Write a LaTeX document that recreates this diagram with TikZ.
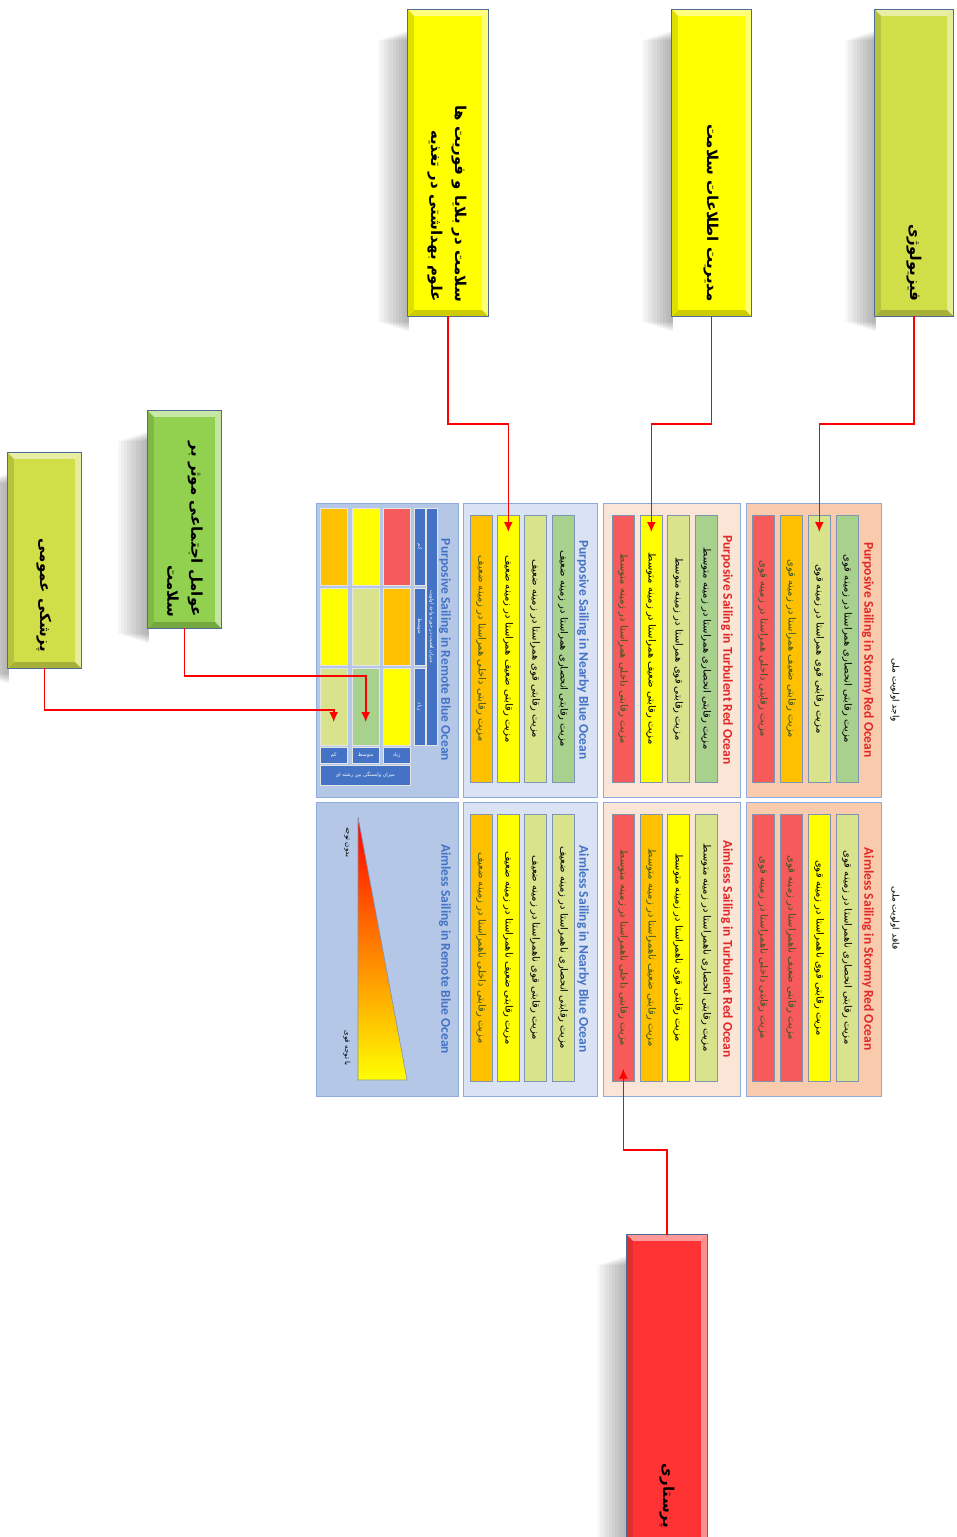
\documentclass[tikz,border=0pt]{standalone}
\usepackage{fontspec}
\TeXXeTstate=1
\newfontfamily\fafont[Script=Arabic]{DejaVu Sans}
\newfontfamily\calfont{Carlito}
\usetikzlibrary{arrows.meta,fit,calc}
\definecolor{cRed}{RGB}{247,90,90}
\definecolor{cOrange}{RGB}{255,192,0}
\definecolor{cYellow}{RGB}{255,255,0}
\definecolor{cLyg}{RGB}{216,227,140}
\definecolor{cGreen}{RGB}{169,209,142}
\definecolor{pStorm}{RGB}{248,203,173}
\definecolor{pTurb}{RGB}{251,229,214}
\definecolor{pNear}{RGB}{218,227,243}
\definecolor{pRemote}{RGB}{180,199,231}
\definecolor{panelEdge}{RGB}{143,170,220}
\definecolor{barEdge}{RGB}{127,147,179}
\definecolor{hdrBlue}{RGB}{68,114,196}
\definecolor{titRed}{RGB}{224,40,40}
\definecolor{txtGreen}{RGB}{55,86,35}
\definecolor{bxYG}{RGB}{208,222,72}
\definecolor{bxYellow}{RGB}{255,255,0}
\definecolor{bxGreen}{RGB}{146,208,80}
\definecolor{bxRed}{RGB}{255,51,51}
\definecolor{bxEdge}{RGB}{79,107,150}
\definecolor{connRed}{RGB}{255,0,0}
\tikzset{
  panelbox/.style={draw=panelEdge, line width=0.8pt, inner sep=0pt},
  barbox/.style={draw=barEdge, line width=0.6pt, minimum width=22pt, minimum height=267pt, inner sep=0pt},
  bartext/.style={rotate=-90, inner sep=0pt, font=\fafont\fontsize{10}{11}\selectfont},
  paneltitle/.style={rotate=-90, inner sep=0pt, font=\calfont\bfseries\fontsize{13.5}{15}\selectfont},
  boxtext/.style={rotate=-90, inner sep=0pt, align=right, anchor=east, font=\fafont\bfseries\fontsize{15}{24}\selectfont},
  cellbox/.style={draw=white!80!gray, line width=0.4pt, minimum width=27pt, minimum height=77pt, inner sep=0pt, anchor=north west},
  hdrcell/.style={fill=hdrBlue, draw=white!80!gray, line width=0.4pt, inner sep=0pt, anchor=north west},
  hdrtext/.style={text=white, inner sep=0pt, font=\fafont\fontsize{5}{6}\selectfont},
  connector/.style={draw=connRed, line width=1.6pt, -{Latex[length=10pt,width=9pt]}},
  headlabel/.style={rotate=-90, inner sep=0pt, font=\fafont\fontsize{9}{10}\selectfont},
}
\newcommand\mkbox[6]{%
  \foreach \i in {1,...,10}{\fill[black,opacity=0.03] ({#2-3*\i},{#3+20+\i}) rectangle ({#2+1},{#5+16-\i});}
  \node[fit={(#2,#3) (#4,#5)}, inner sep=0pt, fill=#6] (#1) {};
  \fill[#6!50!white] (#1.north west) -- (#1.north east) -- ($(#1.north east)+(-6,6)$) -- ($(#1.north west)+(6,6)$) -- cycle;
  \fill[#6!55!white] (#1.north east) -- (#1.south east) -- ($(#1.south east)+(-6,-6)$) -- ($(#1.north east)+(-6,6)$) -- cycle;
  \fill[#6!80!black] (#1.south west) -- (#1.south east) -- ($(#1.south east)+(-6,-6)$) -- ($(#1.south west)+(6,-6)$) -- cycle;
  \fill[#6!88!black] (#1.north west) -- (#1.south west) -- ($(#1.south west)+(6,-6)$) -- ($(#1.north west)+(6,6)$) -- cycle;
  \draw[bxEdge, line width=1pt] (#1.north west) rectangle (#1.south east);
}
\newcommand\mkbar[6]{%
  \node[barbox, fill=#4, anchor=north west] (#1) at (#2,#3) {};
  \node[bartext, text=#5] (#1t) at (#1.center) {#6};
}
\newcommand\mkpanel[6]{%
  \node[panelbox, fill=#6, fit={(#2,#3) (#4,#5)}] (#1) {};
}
\begin{document}
\begin{tikzpicture}[x=1pt,y=-1pt]
\useasboundingbox (0,0) rectangle (957,1537);
\clip (0,0) rectangle (957,1537);
\fill[white] (0,0) rectangle (957,1537);

% ---------- source boxes ----------
\mkbox{bA}{875}{10}{953}{316}{bxYG}
\node[boxtext] (tA) at (914,302) {\beginR فیزیولوژی\endR};
\mkbox{bB}{672}{10}{751}{316}{bxYellow}
\node[boxtext] (tB) at (711,302) {\beginR مدیریت اطلاعات سلامت\endR};
\mkbox{bC}{408}{10}{488}{316}{bxYellow}
\node[boxtext] (tC) at (447,302) {\beginR سلامت در بلایا و فوریت ها\endR\\\beginR علوم بهداشتی در تغذیه\endR};
\mkbox{bD}{148}{411}{221}{628}{bxGreen}
\node[boxtext] (tD) at (185,617) {\beginR عوامل اجتماعی موثر بر\endR\\\beginR سلامت\endR};
\mkbox{bE}{8}{453}{81}{668}{bxYG}
\node[boxtext] (tE) at (44,652) {\beginR پزشکی عمومی\endR};
\mkbox{bF}{627}{1235}{707}{1550}{bxRed}
\node[boxtext] (tF) at (667,1528) {\beginR پرستاری\endR};

% ---------- header labels ----------
\node[headlabel] (hP) at (895,690) {\beginR واجد اولویت ملی\endR};
\node[headlabel] (hA) at (895,918) {\beginR فاقد اولویت ملی\endR};

% ---------- panels ----------
\mkpanel{pSP}{746}{503}{881}{797}{pStorm}
\mkpanel{pSA}{746}{802}{881}{1096}{pStorm}
\mkpanel{pTP}{603}{503}{740}{797}{pTurb}
\mkpanel{pTA}{603}{802}{740}{1096}{pTurb}
\mkpanel{pNP}{463}{503}{597}{797}{pNear}
\mkpanel{pNA}{463}{802}{597}{1096}{pNear}
\mkpanel{pRP}{316}{503}{458}{797}{pRemote}
\mkpanel{pRA}{316}{802}{458}{1096}{pRemote}

\node[paneltitle, text=titRed] (ttSP) at (868,650) {Purposive Sailing in Stormy Red Ocean};
\node[paneltitle, text=titRed] (ttSA) at (868,949) {Aimless Sailing in Stormy Red Ocean};
\node[paneltitle, text=titRed] (ttTP) at (727,650) {Purposive Sailing in Turbulent Red Ocean};
\node[paneltitle, text=titRed] (ttTA) at (727,949) {Aimless Sailing in Turbulent Red Ocean};
\node[paneltitle, text=hdrBlue] (ttNP) at (583,650) {Purposive Sailing in Nearby Blue Ocean};
\node[paneltitle, text=hdrBlue] (ttNA) at (583,949) {Aimless Sailing in Nearby Blue Ocean};
\node[paneltitle, text=hdrBlue] (ttRP) at (445,650) {Purposive Sailing in Remote Blue Ocean};
\node[paneltitle, text=hdrBlue] (ttRA) at (445,949) {Aimless Sailing in Remote Blue Ocean};

% ---------- Stormy ----------
\mkbar{bSP1}{836}{515}{cGreen}{black}{\beginR مزیت رقابتی انحصاری همراستا در زمینه قوی\endR}
\mkbar{bSP2}{808}{515}{cLyg}{black}{\beginR مزیت رقابتی قوی همراستا در زمینه قوی\endR}
\mkbar{bSP3}{780}{515}{cOrange}{txtGreen}{\beginR مزیت رقابتی ضعیف همراستا در زمینه قوی\endR}
\mkbar{bSP4}{752}{515}{cRed}{txtGreen}{\beginR مزیت رقابتی داخلی همراستا در زمینه قوی\endR}
\mkbar{bSA1}{836}{814}{cLyg}{black}{\beginR مزیت رقابتی انحصاری ناهمراستا در زمینه قوی\endR}
\mkbar{bSA2}{808}{814}{cYellow}{black}{\beginR مزیت رقابتی قوی ناهمراستا در زمینه قوی\endR}
\mkbar{bSA3}{780}{814}{cRed}{txtGreen}{\beginR مزیت رقابتی ضعیف ناهمراستا در زمینه قوی\endR}
\mkbar{bSA4}{752}{814}{cRed}{txtGreen}{\beginR مزیت رقابتی داخلی ناهمراستا در زمینه قوی\endR}
% ---------- Turbulent ----------
\mkbar{bTP1}{695}{515}{cGreen}{black}{\beginR مزیت رقابتی انحصاری همراستا در زمینه متوسط\endR}
\mkbar{bTP2}{667}{515}{cLyg}{black}{\beginR مزیت رقابتی قوی همراستا در زمینه متوسط\endR}
\mkbar{bTP3}{640}{515}{cYellow}{black}{\beginR مزیت رقابتی ضعیف همراستا در زمینه متوسط\endR}
\mkbar{bTP4}{612}{515}{cRed}{txtGreen}{\beginR مزیت رقابتی داخلی همراستا در زمینه متوسط\endR}
\mkbar{bTA1}{695}{814}{cLyg}{black}{\beginR مزیت رقابتی انحصاری ناهمراستا در زمینه متوسط\endR}
\mkbar{bTA2}{667}{814}{cYellow}{black}{\beginR مزیت رقابتی قوی ناهمراستا در زمینه متوسط\endR}
\mkbar{bTA3}{640}{814}{cOrange}{txtGreen}{\beginR مزیت رقابتی ضعیف ناهمراستا در زمینه متوسط\endR}
\mkbar{bTA4}{612}{814}{cRed}{txtGreen}{\beginR مزیت رقابتی داخلی ناهمراستا در زمینه متوسط\endR}
% ---------- Nearby ----------
\mkbar{bNP1}{552}{515}{cGreen}{black}{\beginR مزیت رقابتی انحصاری همراستا در زمینه ضعیف\endR}
\mkbar{bNP2}{524}{515}{cLyg}{black}{\beginR مزیت رقابتی قوی همراستا در زمینه ضعیف\endR}
\mkbar{bNP3}{497}{515}{cYellow}{black}{\beginR مزیت رقابتی ضعیف همراستا در زمینه ضعیف\endR}
\mkbar{bNP4}{470}{515}{cOrange}{txtGreen}{\beginR مزیت رقابتی داخلی همراستا در زمینه ضعیف\endR}
\mkbar{bNA1}{552}{814}{cLyg}{black}{\beginR مزیت رقابتی انحصاری ناهمراستا در زمینه ضعیف\endR}
\mkbar{bNA2}{524}{814}{cLyg}{black}{\beginR مزیت رقابتی قوی ناهمراستا در زمینه ضعیف\endR}
\mkbar{bNA3}{497}{814}{cYellow}{black}{\beginR مزیت رقابتی ضعیف ناهمراستا در زمینه ضعیف\endR}
\mkbar{bNA4}{470}{814}{cOrange}{txtGreen}{\beginR مزیت رقابتی داخلی ناهمراستا در زمینه ضعیف\endR}

% ---------- Remote purposive table ----------
\node[cellbox, fill=cRed]    (cR31) at (383,508) {};
\node[cellbox, fill=cOrange] (cR32) at (383,588) {};
\node[cellbox, fill=cYellow] (cR33) at (383,668) {};
\node[cellbox, fill=cYellow] (cR21) at (352,508) {};
\node[cellbox, fill=cLyg]    (cR22) at (352,588) {};
\node[cellbox, fill=cGreen]  (cR23) at (352,668) {};
\node[cellbox, fill=cOrange] (cR11) at (320,508) {};
\node[cellbox, fill=cYellow] (cR12) at (320,588) {};
\node[cellbox, fill=cLyg]    (cR13) at (320,668) {};
% top header (importance)
\node[hdrcell, minimum width=11pt, minimum height=77pt] (hI1) at (414,508) {};
\node[hdrcell, minimum width=11pt, minimum height=77pt] (hI2) at (414,588) {};
\node[hdrcell, minimum width=11pt, minimum height=77pt] (hI3) at (414,668) {};
\node[hdrtext, rotate=-90] (hI1t) at (hI1.center) {\beginR کم\endR};
\node[hdrtext, rotate=-90] (hI2t) at (hI2.center) {\beginR متوسط\endR};
\node[hdrtext, rotate=-90] (hI3t) at (hI3.center) {\beginR زیاد\endR};
\node[hdrcell, minimum width=11pt, minimum height=237pt] (hIm) at (426,508) {};
\node[hdrtext, rotate=-90] (hImt) at (hIm.center) {\beginR میزان اهمیت در حوزه واجد اولویت\endR};
% bottom header (interdisciplinarity)
\node[hdrcell, minimum width=27pt, minimum height=16pt] (hD3) at (383,747) {};
\node[hdrcell, minimum width=27pt, minimum height=16pt] (hD2) at (352,747) {};
\node[hdrcell, minimum width=27pt, minimum height=16pt] (hD1) at (320,747) {};
\node[hdrtext] (hD3t) at (hD3.center) {\beginR زیاد\endR};
\node[hdrtext] (hD2t) at (hD2.center) {\beginR متوسط\endR};
\node[hdrtext] (hD1t) at (hD1.center) {\beginR کم\endR};
\node[hdrcell, minimum width=90pt, minimum height=20pt] (hDm) at (320,765) {};
\node[hdrtext] (hDmt) at (hDm.center) {\beginR میزان وابستگی بین رشته ای\endR};

% ---------- Remote aimless triangle ----------
\shade[top color=red, middle color={rgb,255:red,255;green,165;blue,0}, bottom color=yellow, shading angle=0]
  (358,817) -- (358,1080) -- (407,1080) -- cycle;
\draw[barEdge, line width=0.6pt] (358,817) -- (358,1080) -- (407,1080) -- cycle;
\node[bartext, font=\fafont\fontsize{7}{8}\selectfont] (lNo) at (347,842) {\beginR بدون توجه\endR};
\node[bartext, font=\fafont\fontsize{7}{8}\selectfont] (lStrong) at (347,1048) {\beginR با توجه قوی\endR};

% ---------- connectors ----------
\draw[connector] (bA.south) -- ++(0,108) -| ($(bSP2.north)+(0,17)$);
\draw[connector] (bB.south) -- ++(0,108) -| ($(bTP3.north)+(0,17)$);
\draw[connector] (bC.south) -- ++(0,108) -| ($(bNP3.north)+(0,17)$);
\draw[connector] (bD.south) -- ++(0,48) -| ($(cR23.north)+(0,54)$);
\draw[connector] (bE.south) -- ++(0,42) -| ($(cR13.north)+(0,54)$);
\draw[connector] (bF.north) -- ++(0,-85) -| ($(bTA4.south)+(0,-13)$);
\end{tikzpicture}
\end{document}
